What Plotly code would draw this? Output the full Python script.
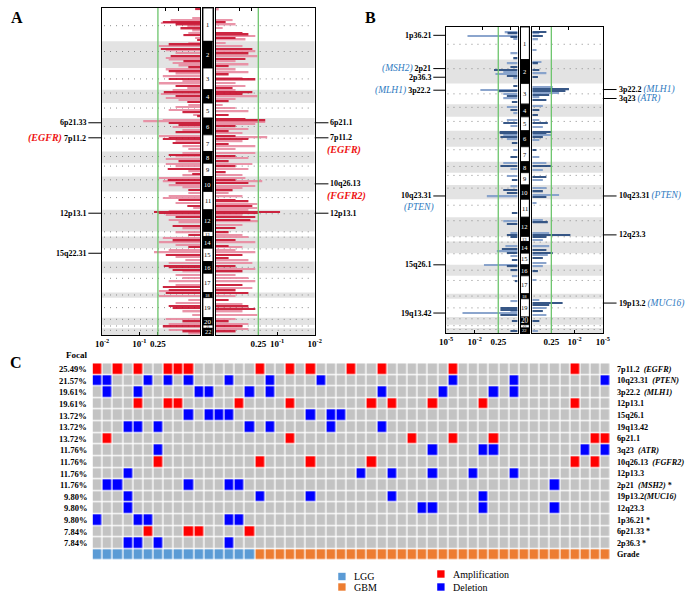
import plotly.graph_objects as go

W, H = 700, 598
FONT = "Liberation Serif"

# ---------------- data ----------------
CHROMS = [str(i) for i in range(1, 23)]
A_CHROM_SIZES = [100, 80, 65, 40, 45, 50, 50, 35, 40, 45, 55, 65, 15, 35, 40, 35, 58, 15, 60, 22, 10, 20]
B_CHROM_SIZES = [98, 72, 62, 38, 42, 48, 45, 33, 37, 43, 54, 58, 15, 35, 35, 33, 54, 15, 55, 23, 10, 15]
CENTROMERE_FRAC = [0.53, 0.38, 0.5, 0.25, 0.33, 0.5, 0.2, 0.43, 0.22, 0.22, 0.33, 0.18,
                   0.05, 0.05, 0.05, 0.49, 0.26, 0.47, 0.5, 0.23, 0.3, 0.3]

# (genomic position, bar length, dark shade 1/0)
A_AMP_LEFT = [
    (4, 5, 1), (30, 8, 0), (38, 30, 0), (42, 38, 1), (46, 40, 0), (50, 25, 1), (55, 13, 0), (62, 20, 1), (68, 8, 0), (75, 12, 0), (82, 17, 1), (90, 5, 0), (96, 3, 1),
    (105, 12, 0), (110, 32, 1), (115, 42, 0), (123, 40, 1), (127, 35, 0), (135, 25, 0), (145, 30, 1), (150, 35, 0), (155, 32, 0), (160, 17, 1), (165, 28, 0), (173, 22, 0), (178, 12, 1),
    (185, 35, 0), (190, 32, 1), (197, 25, 0), (205, 38, 0), (213, 32, 1), (220, 18, 0), (227, 42, 0), (233, 25, 1), (240, 13, 0),
    (247, 28, 0), (253, 37, 1), (258, 40, 0), (263, 25, 1), (270, 35, 0), (275, 22, 0), (281, 13, 1),
    (290, 12, 0), (297, 25, 0), (305, 32, 0), (313, 18, 1), (320, 7, 0), (325, 3, 1),
    (335, 38, 0), (340, 58, 0), (345, 32, 1), (350, 22, 1), (357, 28, 0), (365, 18, 0), (373, 25, 1),
    (385, 42, 0), (389, 32, 1), (393, 38, 1), (400, 25, 0), (405, 28, 1), (415, 18, 0), (423, 12, 0),
    (435, 18, 0), (440, 32, 1), (445, 25, 0), (453, 35, 0), (460, 22, 1),
    (468, 35, 0), (475, 25, 0), (483, 33, 1), (490, 12, 0), (497, 8, 1), (502, 18, 0),
    (510, 42, 0), (515, 33, 1), (520, 38, 0), (525, 25, 1), (532, 32, 0), (538, 18, 0), (545, 12, 1),
    (555, 12, 0), (563, 32, 0), (570, 38, 0), (575, 22, 1), (585, 25, 0), (593, 13, 1), (600, 7, 0),
    (608, 32, 0), (612, 47, 1), (615, 42, 1), (620, 35, 0), (627, 25, 1), (635, 32, 0), (643, 22, 0), (653, 28, 1), (661, 18, 0),
    (673, 25, 0), (680, 12, 1),
    (690, 38, 0), (697, 28, 1), (703, 42, 0), (710, 25, 0), (717, 12, 1),
    (725, 32, 0), (733, 47, 0), (740, 35, 1), (747, 25, 0), (755, 15, 0),
    (765, 32, 0), (773, 37, 1), (778, 32, 1), (785, 28, 1), (790, 18, 0),
    (800, 25, 0), (810, 18, 0), (820, 32, 0), (830, 25, 0), (837, 38, 1), (845, 32, 1), (850, 42, 0),
    (855, 35, 1), (863, 42, 0),
    (875, 12, 0), (885, 25, 0), (893, 32, 1), (900, 28, 1), (910, 18, 0), (920, 8, 0),
    (933, 35, 0), (940, 18, 1), (947, 32, 0),
    (955, 38, 1),
    (965, 32, 0), (970, 18, 1), (976, 12, 0),
]
A_AMP_RIGHT = [
    (5, 3, 0), (37, 17, 0), (43, 10, 1), (50, 20, 0), (60, 7, 0), (75, 27, 1), (80, 33, 1), (85, 40, 0), (90, 20, 1), (95, 30, 0),
    (105, 10, 0), (115, 27, 0), (123, 37, 1), (130, 40, 0), (137, 33, 1), (145, 42, 0), (153, 30, 1), (160, 20, 0), (170, 33, 0), (175, 13, 1),
    (185, 20, 0), (193, 33, 0), (200, 13, 1), (210, 27, 0), (215, 40, 1), (225, 20, 0), (233, 30, 0), (240, 17, 1),
    (247, 20, 0), (253, 37, 1), (258, 27, 1), (265, 42, 0), (273, 20, 0), (280, 13, 1),
    (290, 7, 0), (300, 20, 0), (310, 33, 0), (320, 13, 1),
    (333, 30, 1), (337, 50, 1), (342, 50, 0), (347, 40, 0), (355, 20, 1), (363, 33, 0), (370, 13, 1), (375, 27, 0),
    (383, 20, 1), (388, 52, 0), (393, 33, 1), (400, 27, 0), (407, 13, 1), (415, 40, 0), (423, 20, 0),
    (435, 40, 0), (443, 20, 1), (450, 33, 0), (460, 13, 1),
    (467, 37, 0), (475, 20, 1), (483, 33, 0), (493, 10, 1), (500, 27, 0),
    (510, 30, 0), (515, 20, 1), (520, 47, 0), (525, 33, 1), (533, 40, 0), (540, 27, 0), (547, 17, 1),
    (555, 13, 0), (565, 27, 0), (575, 20, 1), (580, 33, 1), (587, 42, 0), (593, 37, 1), (600, 42, 0),
    (607, 33, 0), (612, 65, 1), (615, 43, 1), (620, 27, 0), (627, 40, 1), (635, 35, 1), (640, 43, 0), (650, 27, 0), (660, 20, 1),
    (673, 13, 1), (680, 27, 0),
    (687, 33, 0), (695, 20, 1), (703, 40, 0), (713, 13, 1), (717, 27, 0),
    (725, 20, 0), (733, 40, 0), (740, 27, 1), (750, 13, 1), (757, 33, 0),
    (765, 37, 0), (775, 20, 1), (783, 40, 0), (790, 27, 1),
    (800, 20, 0), (810, 33, 0), (820, 40, 0), (830, 27, 1), (840, 37, 0), (847, 20, 1),
    (855, 33, 1), (863, 20, 0),
    (875, 13, 1), (887, 27, 0), (895, 33, 1), (903, 40, 1), (910, 27, 0), (920, 42, 0),
    (933, 20, 0), (940, 13, 1), (947, 33, 0),
    (955, 27, 1),
    (963, 33, 0), (970, 20, 1),
]
B_DEL_LEFT = [
    (17, 18, 0), (20, 14, 1), (28, 70, 0), (30, 10, 1), (37, 6, 0), (80, 10, 0), (95, 6, 1),
    (110, 15, 0), (120, 10, 1), (130, 33, 1), (135, 20, 0), (142, 31, 0), (148, 15, 1), (155, 6, 0),
    (178, 6, 1), (190, 52, 0), (194, 27, 1), (202, 20, 0), (208, 15, 1), (215, 20, 0), (225, 8, 1),
    (240, 15, 0), (250, 10, 1), (260, 6, 0),
    (280, 15, 0), (288, 20, 1), (298, 10, 0),
    (315, 25, 1), (320, 25, 1), (325, 20, 0), (330, 24, 1), (338, 15, 0), (348, 8, 1),
    (370, 6, 0), (390, 10, 1),
    (408, 20, 0), (418, 24, 1), (428, 10, 0),
    (448, 15, 0), (460, 8, 1),
    (480, 10, 0), (490, 20, 1), (500, 15, 1), (510, 43, 0),
    (560, 8, 1),
    (585, 20, 0), (592, 15, 1), (620, 10, 0), (625, 15, 1),
    (632, 10, 1),
    (660, 17, 0), (668, 22, 1), (675, 29, 0), (680, 15, 1),
    (688, 10, 0), (700, 8, 1),
    (715, 47, 0), (720, 15, 1), (732, 10, 1),
    (750, 8, 0), (765, 4, 1),
    (825, 10, 0), (845, 24, 1), (850, 24, 1), (855, 10, 0), (860, 77, 0), (865, 24, 1),
    (885, 8, 1), (915, 10, 1),
]
B_DEL_RIGHT = [
    (15, 20, 1), (20, 10, 0), (28, 15, 1), (38, 8, 0), (70, 6, 0),
    (105, 13, 0), (110, 8, 1), (130, 10, 1), (140, 20, 0), (150, 8, 1),
    (182, 29, 0), (188, 52, 1), (192, 47, 1), (198, 38, 0), (205, 24, 1), (212, 10, 0), (220, 20, 1),
    (238, 15, 0), (250, 10, 1), (265, 8, 1),
    (280, 10, 0), (288, 22, 1), (300, 15, 0),
    (315, 28, 1), (320, 20, 1), (325, 27, 0), (332, 15, 1), (340, 10, 0),
    (370, 6, 1), (390, 10, 0),
    (408, 20, 0), (418, 27, 1), (430, 15, 0),
    (450, 20, 1), (460, 15, 0),
    (485, 20, 0), (495, 15, 1), (505, 38, 0), (512, 20, 1),
    (530, 6, 0),
    (580, 15, 0), (588, 22, 1), (620, 24, 0), (625, 54, 1), (632, 20, 1),
    (640, 15, 0), (660, 24, 0), (670, 20, 1), (680, 29, 1), (685, 22, 0),
    (695, 15, 1), (710, 20, 0),
    (720, 15, 0), (735, 8, 1),
    (760, 6, 0),
    (820, 10, 0), (830, 43, 1), (835, 24, 1), (845, 20, 0), (855, 15, 1), (865, 20, 0),
    (885, 10, 1), (915, 8, 0),
]

A_TICKVALS = [43, 62, 100]
A_TICKTEXT = ["0.25", "10<sup>-1</sup>", "10<sup>-2</sup>"]
B_TICKVALS = [27, 60, 100]
B_TICKTEXT = ["0.25", "10<sup>-2</sup>", "10<sup>-5</sup>"]
A_THRESH = 43
B_THRESH = 27
# unlabeled score ticks along the top edge of each panel
TOP_TICKS = {1: [22, 35], 3: [24, 36], 4: [10, 49], 6: [10, 51]}

# (cytoband, genomic position, gene, placement)
A_LEFT_LABELS = [("6p21.33", 344, "", ""), ("7p11.2", 389, "EGFR", "inline"),
                 ("12p13.1", 615, "", ""), ("15q22.31", 735, "", "")]
A_RIGHT_LABELS = [("6p21.1", 344, "", ""), ("7p11.2", 389, "EGFR", "below"),
                  ("10q26.13", 527, "FGFR2", "below"), ("12p13.1", 615, "", "")]
B_LEFT_LABELS = [("1p36.21", 25, "", ""), ("2p21", 125, "MSH2", "inline"), ("2p36.3", 151, "", ""),
                 ("3p22.2", 190, "MLH1", "inline"), ("10q23.31", 508, "PTEN", "below"),
                 ("15q26.1", 715, "", ""), ("19q13.42", 860, "", "")]
B_RIGHT_LABELS = [("3p22.2", 188, "MLH1", "inline"), ("3q23", 215, "ATR", "inline"),
                  ("10q23.31", 508, "PTEN", "inline"), ("12q23.3", 625, "", ""),
                  ("19p13.2", 830, "MUC16", "inline")]

# Panel C
FOCAL_PCT = ["25.49%", "21.57%", "19.61%", "19.61%", "13.72%", "13.72%", "13.72%", "11.76%",
             "11.76%", "11.76%", "11.76%", "9.80%", "9.80%", "9.80%", "7.84%", "7.84%"]
FOCAL_BANDS = ["7p11.2", "10q23.31", "3p22.2", "12p13.1", "15q26.1", "19q13.42", "6p21.1", "3q23",
               "10q26.13", "12p13.3", "2p21", "19p13.2", "12q23.3", "1p36.21", "6p21.33", "2p36.3"]
FOCAL_GENES = ["EGFR", "PTEN", "MLH1", "", "", "", "", "ATR", "FGFR2", "", "MSH2", "MUC16", "", "", "", ""]
FOCAL_STAR = [0, 0, 0, 0, 0, 0, 0, 0, 0, 0, 1, 0, 0, 1, 1, 1]
FOCAL_TYPE = ["amp", "del", "del", "amp", "del", "del", "amp", "del", "amp", "del", "del", "del", "del", "del", "amp", "del"]
FOCAL_SAMPLES = [
    [0, 2, 4, 7, 8, 9, 16, 19, 21, 25, 28, 35, 47],
    [0, 1, 5, 7, 9, 13, 17, 22, 35, 41, 50],
    [1, 4, 10, 11, 15, 17, 28, 34, 39, 41],
    [4, 7, 8, 14, 19, 27, 29, 33, 38, 47],
    [9, 11, 12, 13, 21, 23, 24],
    [3, 4, 6, 15, 17, 23, 28],
    [1, 19, 31, 35, 39, 49, 50],
    [6, 33, 38, 39, 48, 50],
    [6, 16, 21, 27, 47, 49],
    [3, 26, 29, 33, 37, 41],
    [1, 2, 9, 13, 14, 45],
    [3, 16, 21, 29, 38],
    [3, 32, 33, 38, 45],
    [0, 4, 5, 13, 14],
    [5, 9, 10, 15],
    [3, 4, 6, 13],
]
N_LGG = 16
N_GBM = 35

# ---------------- helpers ----------------
def xd(a, b):
    return [a / W, b / W]


def yd(a, b):
    return [1 - b / H, 1 - a / H]


GREY_CELL = "#c3c3c3"
RED = "#ff0000"
BLUE = "#0000ff"
LGG_C = "#5b9bd5"
GBM_C = "#ed7d31"
AMP_DARK, AMP_LIGHT = "#c8102e", "#e88aa0"
DEL_DARK, DEL_LIGHT = "#23467a", "#7f9cc8"
BAND_C = "#e3e3e3"
GREEN = "#6cc46c"

fig = go.Figure()
shapes = []
annos = []

A_Y = (8, 335)
B_Y = (27, 333)
panels = {
    1: dict(x=(97, 197), y=A_Y, sizes=A_CHROM_SIZES, rev=True, tv=A_TICKVALS, tt=A_TICKTEXT, th=A_THRESH),
    3: dict(x=(213, 314), y=A_Y, sizes=A_CHROM_SIZES, rev=False, tv=A_TICKVALS, tt=A_TICKTEXT, th=A_THRESH),
    4: dict(x=(448, 521), y=B_Y, sizes=B_CHROM_SIZES, rev=True, tv=B_TICKVALS, tt=B_TICKTEXT, th=B_THRESH),
    6: dict(x=(536, 608), y=B_Y, sizes=B_CHROM_SIZES, rev=False, tv=B_TICKVALS, tt=B_TICKTEXT, th=B_THRESH),
}
ideos = {2: dict(x=(200, 210), y=A_Y, sizes=A_CHROM_SIZES), 5: dict(x=(524, 533), y=B_Y, sizes=B_CHROM_SIZES)}


def starts(sizes):
    s, acc = [], 0
    for v in sizes:
        s.append(acc)
        acc += v
    return s, acc


def ax(n, kind):
    return kind if n == 1 else f"{kind}{n}"


layout_axes = {}
for n, p in panels.items():
    st, total = starts(p["sizes"])
    rng = [100, 0] if p["rev"] else [0, 100]
    layout_axes[ax(n, "xaxis")] = dict(
        domain=xd(*p["x"]), range=rng, anchor=ax(n, "y"),
        tickvals=p["tv"], ticktext=[f"<b>{t}</b>" for t in p["tt"]], ticks="inside", ticklen=3,
        tickcolor="black", showline=True, mirror=True, linecolor="black", linewidth=1.3,
        showgrid=False, zeroline=False, tickfont=dict(family=FONT, size=9, color="black"))
    layout_axes[ax(n, "yaxis")] = dict(
        domain=yd(*p["y"]), range=[total, 0], anchor=ax(n, "x"), showticklabels=False,
        ticks="", showline=True, mirror=True, linecolor="black", linewidth=1.3,
        showgrid=False, zeroline=False)
    # top ticks (overlay axis)
    layout_axes[f"xaxis{n + 10}"] = dict(
        overlaying=ax(n, "x"), side="top", range=rng, anchor=ax(n, "y"), tickvals=TOP_TICKS[n],
        ticks="inside", ticklen=3, tickcolor="black", showticklabels=False, showgrid=False,
        zeroline=False, showline=False)
    xr, yr = ax(n, "x"), ax(n, "y")
    for i, (s0, sz) in enumerate(zip(st, p["sizes"])):
        if i % 2 == 1:
            shapes.append(dict(type="rect", xref=f"{xr} domain", yref=yr, x0=0, x1=1, y0=s0, y1=s0 + sz,
                               fillcolor=BAND_C, line=dict(width=0), layer="below"))
        yc = s0 + CENTROMERE_FRAC[i] * sz
        shapes.append(dict(type="line", xref=f"{xr} domain", yref=yr, x0=0.02, x1=0.98, y0=yc, y1=yc,
                           line=dict(color="#8a8a8a", width=1, dash="1px,5px"), layer="below"))
    shapes.append(dict(type="line", xref=xr, yref=f"{yr} domain", x0=p["th"], x1=p["th"], y0=0, y1=1,
                       line=dict(color=GREEN, width=1.3)))

BAR_SETS = {1: (A_AMP_LEFT, AMP_DARK, AMP_LIGHT, 4.5), 3: (A_AMP_RIGHT, AMP_DARK, AMP_LIGHT, 4.5),
            4: (B_DEL_LEFT, DEL_DARK, DEL_LIGHT, 4), 6: (B_DEL_RIGHT, DEL_DARK, DEL_LIGHT, 4)}
for n, (bars, dark, light, thick) in BAR_SETS.items():
    for shade, col in ((0, light), (1, dark)):
        sel = [b for b in bars if b[2] == shade]
        fig.add_trace(go.Bar(orientation="h", y=[b[0] for b in sel], x=[b[1] for b in sel],
                             base=0, width=thick, marker=dict(color=col, line=dict(width=0)),
                             opacity=0.9, xaxis=ax(n, "x"), yaxis=ax(n, "y"), showlegend=False,
                             hoverinfo="skip"))
    # invisible trace so the top-tick overlay axis is drawn
    fig.add_trace(go.Scatter(x=[], y=[], xaxis=f"x{n + 10}", yaxis=ax(n, "y"), showlegend=False,
                             hoverinfo="skip"))

for n, p in ideos.items():
    st, total = starts(p["sizes"])
    xr, yr = ax(n, "x"), ax(n, "y")
    layout_axes[ax(n, "xaxis")] = dict(domain=xd(*p["x"]), range=[-0.5, 0.5], anchor=yr,
                                       visible=True, showticklabels=False, ticks="", showgrid=False,
                                       zeroline=False, showline=True, mirror=True, linecolor="black",
                                       linewidth=1.3)
    layout_axes[ax(n, "yaxis")] = dict(domain=yd(*p["y"]), range=[total, 0], anchor=xr,
                                       showticklabels=False, ticks="", showgrid=False, zeroline=False,
                                       showline=True, mirror=True, linecolor="black", linewidth=1.3)
    fig.add_trace(go.Bar(
        x=[0] * len(CHROMS), y=p["sizes"], base=st, width=1,
        marker=dict(color=["white" if i % 2 == 0 else "black" for i in range(22)],
                    line=dict(color="black", width=0.8)),
        xaxis=xr, yaxis=yr, showlegend=False, hoverinfo="skip"))
    for i, (c, s0, sz) in enumerate(zip(CHROMS, st, p["sizes"])):
        fsize = 6.5 if sz >= 30 else max(3.5, sz / 3.2)
        annos.append(dict(x=0, y=s0 + sz / 2, xref=xr, yref=yr, text=c, showarrow=False,
                          xanchor="center", yanchor="middle", borderpad=0,
                          font=dict(family=FONT, size=fsize, color="black" if i % 2 == 0 else "white")))


# ---------------- cytoband labels ----------------
def add_labels(labels, yref, side, lx0, lx1, tx, gcol, gbold, below_x, gsize):
    for band, pos, gene, place in labels:
        shapes.append(dict(type="line", xref="paper", yref=yref, x0=lx0 / W, x1=lx1 / W, y0=pos, y1=pos,
                           line=dict(color="black", width=1)))
        g = f"<i>({gene})</i>"
        if gbold:
            g = f"<b>{g}</b>"
        gspan = f"<span style='font-size:{gsize}px;color:{gcol}'>{g}</span>"
        btxt = f"<b>{band}</b>"
        if gene and place == "inline":
            txt = (gspan + "\u00a0" + btxt) if side == "left" else (btxt + "\u00a0" + gspan)
        else:
            txt = btxt
        annos.append(dict(x=tx / W, y=pos, xref="paper", yref=yref, text=txt, showarrow=False,
                          xanchor="right" if side == "left" else "left", yanchor="middle",
                          borderpad=0, font=dict(family=FONT, size=8, color="black")))
        if gene and place == "below":
            annos.append(dict(x=below_x / W, y=pos, xref="paper", yref=yref, text=gspan, showarrow=False,
                              xanchor="right" if side == "left" else "left", yanchor="middle", yshift=-12,
                              borderpad=0, font=dict(family=FONT, size=gsize, color=gcol)))


add_labels(A_LEFT_LABELS, "y", "left", 83, 97, 82, "#ee1111", True, 82, 10)
add_labels(A_RIGHT_LABELS, "y3", "right", 314, 328, 329, "#ee1111", True, 326, 10)
add_labels(B_LEFT_LABELS, "y4", "left", 435, 448, 434, "#2f7bbf", False, 437, 9.5)
add_labels(B_RIGHT_LABELS, "y6", "right", 608, 622, 623, "#2f7bbf", False, 623, 9.5)

# panel letters
for letter, x, y in (("A", 10, 18), ("B", 371, 18), ("C", 9, 362)):
    annos.append(dict(x=x / W, y=1 - y / H, xref="paper", yref="paper", text=f"<b>{letter}</b>",
                      showarrow=False, xanchor="center", yanchor="middle",
                      font=dict(family=FONT, size=16, color="black")))

# ---------------- panel C heatmap ----------------
n_samples = N_LGG + N_GBM
Z = []
for typ, samples in zip(FOCAL_TYPE, FOCAL_SAMPLES):
    row = [0] * n_samples
    for c in samples:
        row[c] = 1 if typ == "amp" else 2
    Z.append(row)
Z.append([3] * N_LGG + [4] * N_GBM)
n_rows = len(Z)

cs = [[0, GREY_CELL], [0.2, GREY_CELL], [0.2, RED], [0.4, RED], [0.4, BLUE], [0.6, BLUE],
      [0.6, LGG_C], [0.8, LGG_C], [0.8, GBM_C], [1, GBM_C]]
fig.add_trace(go.Heatmap(z=Z, x=list(range(n_samples)), y=list(range(n_rows)), colorscale=cs,
                         zmin=-0.5, zmax=4.5, showscale=False, xgap=1.3, ygap=1.3,
                         xaxis="x7", yaxis="y7", hoverinfo="skip"))
layout_axes["xaxis7"] = dict(domain=xd(87.3, 616.3), range=[-0.5, n_samples - 0.5], visible=False, anchor="y7")
layout_axes["yaxis7"] = dict(domain=yd(363.3, 560.7), range=[n_rows - 0.5, -0.5], visible=False, anchor="x7")

annos.append(dict(x=83 / W, y=1 - 355 / H, xref="paper", yref="paper", text="<b>Focal</b>", showarrow=False,
                  xanchor="right", yanchor="middle", borderpad=0, font=dict(family=FONT, size=9, color="black")))
for i, pct in enumerate(FOCAL_PCT):
    annos.append(dict(x=83 / W, y=i, xref="paper", yref="y7", text=f"<b>{pct}</b>", showarrow=False,
                      xanchor="right", yanchor="middle", borderpad=0,
                      font=dict(family=FONT, size=8.5, color="black")))
for i, (band, gene, star) in enumerate(zip(FOCAL_BANDS, FOCAL_GENES, FOCAL_STAR)):
    txt = band
    if gene:
        sep = "" if band == "19p13.2" else "\u00a0\u00a0"
        txt += f"{sep}<i>({gene})</i>"
    if star:
        txt += "\u00a0*"
    annos.append(dict(x=621 / W, y=i, xref="paper", yref="y7", text=f"<b>{txt}</b>", showarrow=False,
                      xanchor="left", yanchor="middle", borderpad=0,
                      font=dict(family=FONT, size=8.2, color="black")))
annos.append(dict(x=621 / W, y=n_rows - 1, xref="paper", yref="y7", text="<b>Grade</b>", showarrow=False,
                  xanchor="left", yanchor="middle", borderpad=0, font=dict(family=FONT, size=8.2, color="black")))

# legend
LEGEND_ITEMS = [("LGG", LGG_C, 338, 576.5), ("GBM", GBM_C, 338, 587),
                ("Amplification", RED, 439, 574), ("Deletion", BLUE, 439, 587)]
for name, col, x, y in LEGEND_ITEMS:
    shapes.append(dict(type="rect", xref="paper", yref="paper", x0=x / W, x1=(x + 7.5) / W,
                       y0=1 - (y + 3.7) / H, y1=1 - (y - 3.7) / H, fillcolor=col, line=dict(width=0)))
    annos.append(dict(x=(x + 15) / W, y=1 - y / H, xref="paper", yref="paper", text=name, showarrow=False,
                      xanchor="left", yanchor="middle", borderpad=0,
                      font=dict(family=FONT, size=10, color="black")))

fig.update_layout(
    width=W, height=H, margin=dict(l=0, r=0, t=0, b=0), paper_bgcolor="white", plot_bgcolor="white",
    font=dict(family=FONT, color="black"), showlegend=False, barmode="overlay",
    shapes=shapes, annotations=annos, **layout_axes)

fig.write_html("out.html", config={"displayModeBar": False},
               post_script="document.body.style.margin='0px';document.body.style.overflow='hidden';")
